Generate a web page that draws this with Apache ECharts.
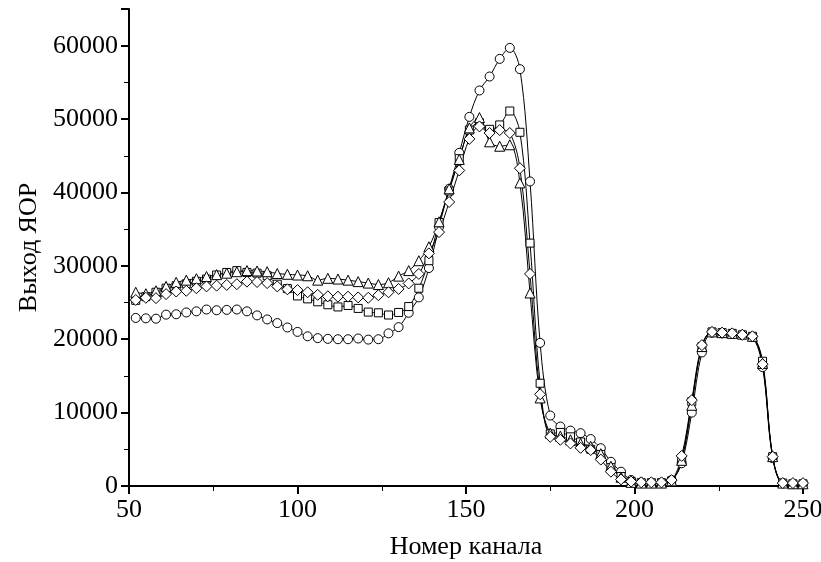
<!DOCTYPE html>
<html>
<head>
<meta charset="utf-8">
<script src="https://cdn.jsdelivr.net/npm/echarts@6/dist/echarts.min.js"></script>
<style>html,body{margin:0;padding:0;background:#fff}#c{width:821px;height:562px}</style>
</head>
<body>
<div id="c"></div>
<script>
const channels = [52,55,58,61,64,67,70,73,76,79,82,85,88,91,94,97,100,103,106,109,112,115,118,121,124,127,130,133,136,139,142,145,148,151,154,157,160,163,166,169,172,175,178,181,184,187,190,193,196,199,202,205,208,211,214,217,220,223,226,229,232,235,238,241,244,247,250];
const circleVals = [22900,22850,22800,23350,23400,23650,23800,24050,23950,24000,24050,23800,23250,22700,22200,21600,21000,20400,20150,20050,20000,20000,20100,19950,20000,20800,21650,23600,25700,29700,35300,40500,45400,50300,53900,55800,58200,59700,56800,41500,19500,9600,8100,7550,7200,6400,5150,3300,1950,820,500,450,450,800,3100,10000,18200,20900,20800,20700,20600,20300,16200,3800,400,300,300];
const squareVals = [25300,25800,26400,26950,27300,27550,27900,28200,28750,29100,29350,29100,29000,28650,27500,26900,25900,25500,25100,24700,24400,24600,24200,23700,23600,23300,23650,24450,26950,30700,35900,40200,44600,48500,49500,48600,49200,51100,48200,33100,14000,7100,7300,6700,6000,5000,4300,2500,1300,600,450,450,450,700,3600,11500,19000,21000,20900,20800,20600,20400,17000,4000,400,300,300];
const triangleVals = [26400,26200,26600,27200,27750,28050,28250,28550,28800,29000,29200,29350,29300,29200,28950,28850,28750,28650,28050,28300,28200,28050,27850,27650,27450,27700,28600,29350,30700,32600,36000,40500,44500,48800,50200,46900,46300,46500,41300,26300,12000,7200,6800,6300,5800,5400,4400,2700,1200,500,400,400,400,700,3500,11000,19000,21000,20900,20800,20700,20400,16700,4000,400,300,300];
const diamondVals = [25350,25650,25600,26150,26500,26600,26950,27200,27300,27400,27500,27850,27800,27650,27200,26800,26700,26400,26050,25850,25800,25800,25700,25650,26000,26400,26850,27600,28900,31700,34600,38700,43000,47300,49000,48100,48500,48100,43300,28900,12500,6700,6300,5800,5200,4900,3600,1950,900,600,500,500,500,800,4100,11700,19200,21000,20900,20800,20600,20400,16600,4000,400,400,400];
const xTickLabels = ['50','100','150','200','250'];
const yTickLabels = ['0','10000','20000','30000','40000','50000','60000'];

const font = '"Liberation Serif", "Times New Roman", serif';
function pairs(vals){ return channels.map((c,i)=>[c, vals[i]]); }
function mk(name, vals, symbol, size){
  return {
    name, type:'line', data: pairs(vals), smooth: 0.35,
    symbol, symbolSize: size, showAllSymbol: true,
    lineStyle:{color:'#000', width:1},
    itemStyle:{color:'#fff', borderColor:'#000', borderWidth:1},
    emphasis:{disabled:true}, animation:false
  };
}
const chart = echarts.init(document.getElementById('c'), null, {renderer:'canvas'});
chart.setOption({
  backgroundColor:'#fff',
  animation:false,
  grid:{left:129, right:18, top:9, bottom:76, containLabel:false, outerBoundsMode:'none'},
  xAxis:{
    type:'value', min:50, max:250, interval:50,
    name:'Номер канала', nameLocation:'middle', nameGap:48,
    nameTextStyle:{fontFamily:font, fontSize:26, color:'#000'},
    axisLine:{show:true, onZero:false, lineStyle:{color:'#000', width:2}},
    axisTick:{show:true, inside:false, length:8, lineStyle:{color:'#000', width:2}},
    minorTick:{show:true, splitNumber:2, length:5, lineStyle:{color:'#000', width:1}},
    axisLabel:{fontFamily:font, fontSize:26, color:'#000', margin:11,
      formatter:(v)=> xTickLabels.includes(String(v)) ? String(v) : ''},
    splitLine:{show:false}
  },
  yAxis:{
    type:'value', min:0, max:65000, interval:10000,
    name:'Выход ЯОР', nameLocation:'middle', nameGap:86, nameRotate:90,
    nameTextStyle:{fontFamily:font, fontSize:26, color:'#000'},
    axisLine:{show:true, onZero:false, lineStyle:{color:'#000', width:2}},
    axisTick:{show:true, inside:false, length:8, lineStyle:{color:'#000', width:2}},
    minorTick:{show:true, splitNumber:2, length:5, lineStyle:{color:'#000', width:1}},
    axisLabel:{fontFamily:font, fontSize:26, color:'#000', margin:11, showMaxLabel:false,
      formatter:(v)=> yTickLabels.includes(String(v)) ? String(v) : ''},
    splitLine:{show:false}
  },
  series:[
    mk('circle', circleVals, 'circle', 9),
    mk('square', squareVals, 'rect', 8),
    mk('triangle', triangleVals, 'triangle', 10),
    mk('diamond', diamondVals, 'diamond', 11)
  ]
});
</script>
</body>
</html>
